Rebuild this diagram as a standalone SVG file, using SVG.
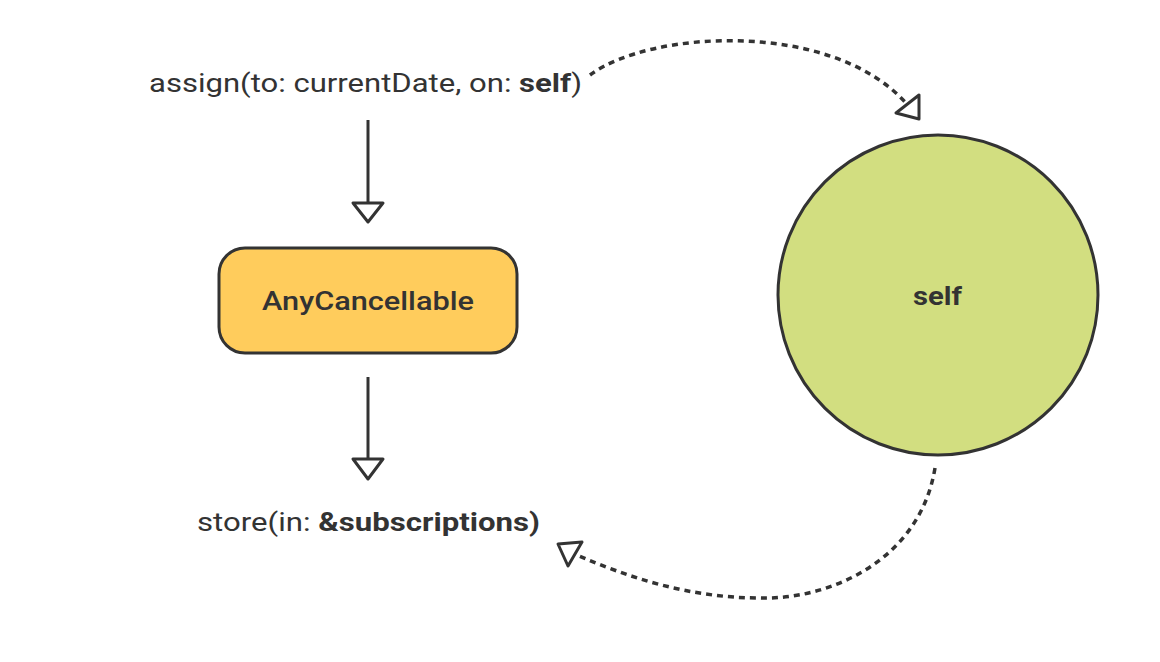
<svg xmlns="http://www.w3.org/2000/svg" width="1160" height="662" viewBox="0 0 1160 662">
<style>
.lbl{font-family:Roboto,"Liberation Sans",sans-serif;fill:#333;font-size:26px}
.b{font-weight:bold}
.solid{stroke:#333;stroke-width:3;fill:none}
.dash{stroke:#333;stroke-width:3.5;fill:none;stroke-dasharray:6 5}
.head{stroke:#333;stroke-width:3;fill:#fff;stroke-linejoin:round}
</style>
<rect width="1160" height="662" fill="#fff"/>
<g id="assign">
<text class="lbl" x="149" y="92" textLength="433" lengthAdjust="spacingAndGlyphs">assign(to: currentDate, on: <tspan class="b">self</tspan>)</text>
</g>
<g id="anycancellable">
<rect x="219" y="248" width="298" height="105" rx="26" fill="#FFCC5C" stroke="#333" stroke-width="3"/>
<text class="lbl" x="262" y="310" font-weight="500" font-size="27" textLength="212" lengthAdjust="spacingAndGlyphs">AnyCancellable</text>
</g>
<g id="store">
<text class="lbl" x="197" y="531" textLength="343" lengthAdjust="spacingAndGlyphs">store(in: <tspan class="b">&amp;subscriptions)</tspan></text>
</g>
<g id="self">
<circle cx="938" cy="295" r="160" fill="#D2DE80" stroke="#333" stroke-width="3"/>
<text class="lbl b" x="913" y="305" font-size="28" textLength="49" lengthAdjust="spacingAndGlyphs">self</text>
</g>
<g id="connectors">
<line class="solid" x1="368" y1="120" x2="368" y2="203"/>
<polygon class="head" points="353,203 383,203 368,222"/>
<line class="solid" x1="368" y1="377" x2="368" y2="459"/>
<polygon class="head" points="353,459 383,459 368,479"/>
<path class="dash" d="M590,75 C650,30 830,20 905,102"/>
<polygon class="head" points="896,113 919,95 919,119"/>
<path class="dash" d="M935,468 C920,560 830,600 760,598 C690,598 630,578 577,555"/>
<polygon class="head" points="558,544 582,542 568,566"/>
</g>
</svg>
